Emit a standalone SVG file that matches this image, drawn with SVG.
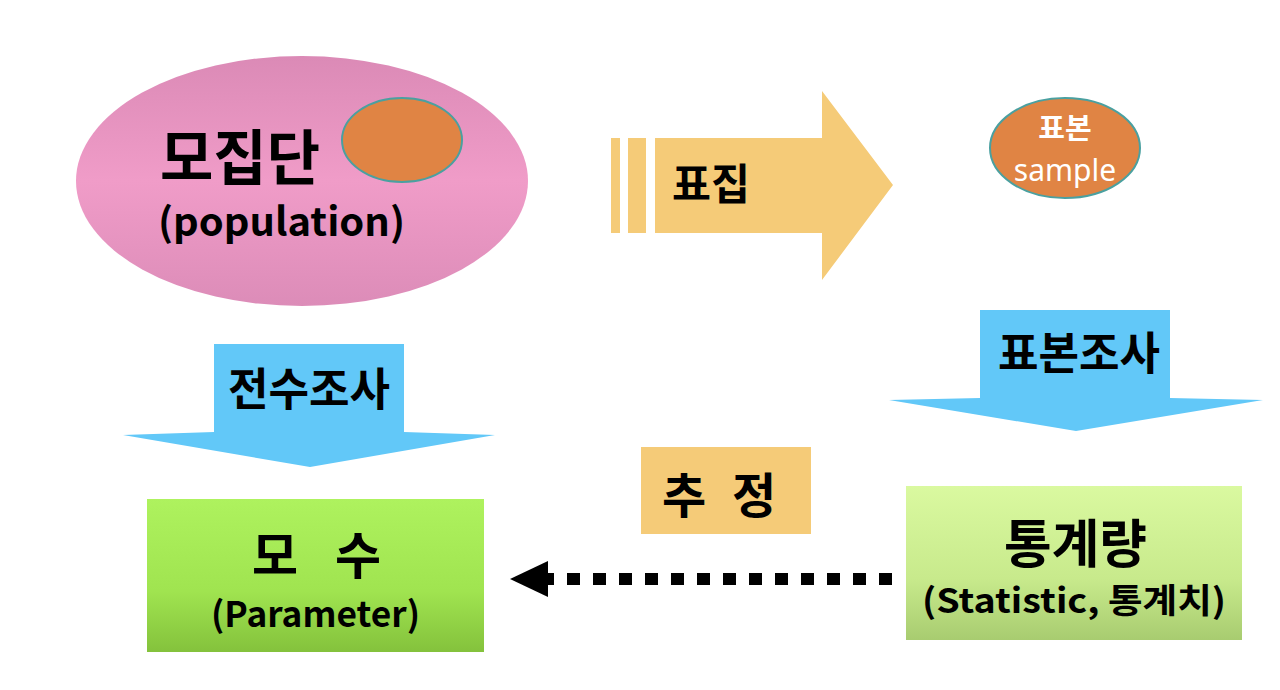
<svg xmlns="http://www.w3.org/2000/svg" width="1280" height="690" viewBox="0 0 1280 690">
<defs>
<linearGradient id="pink" x1="0" y1="0" x2="0" y2="1">
<stop offset="0" stop-color="#DB8AB6"/>
<stop offset="0.5" stop-color="#F09CC8"/>
<stop offset="1" stop-color="#DC8CB8"/>
</linearGradient>
<linearGradient id="g1" x1="0" y1="0" x2="0" y2="1">
<stop offset="0" stop-color="#AEF25E"/>
<stop offset="0.6" stop-color="#A0E450"/>
<stop offset="1" stop-color="#84C23C"/>
</linearGradient>
<linearGradient id="g2" x1="0" y1="0" x2="0" y2="1">
<stop offset="0" stop-color="#DAF9A0"/>
<stop offset="0.6" stop-color="#C8EA8C"/>
<stop offset="1" stop-color="#A8CC70"/>
</linearGradient>
</defs>
<style>
.ko{font-family:"Noto Sans CJK KR","Noto Sans",sans-serif;font-weight:bold;fill:#000}
.lat{font-family:"Noto Sans CJK KR","Noto Sans",sans-serif;font-weight:bold;fill:#000}
.blue{fill:#62C8F8}
</style>
<rect width="1280" height="690" fill="#FFFFFF"/>

<g id="population">
<ellipse cx="302" cy="181" rx="226" ry="125" fill="url(#pink)"/>
<ellipse cx="402" cy="140" rx="60" ry="42" fill="#E08444" stroke="#4AA0A0" stroke-width="2"/>
<text class="ko" x="160" y="180" font-size="60" textLength="160" lengthAdjust="spacingAndGlyphs">모집단</text>
<text class="lat" x="158" y="236" font-size="39" textLength="247" lengthAdjust="spacingAndGlyphs">(population)</text>
</g>

<g id="sampling">
<rect x="611" y="138" width="9" height="95" fill="#F5CB78"/>
<rect x="628" y="138" width="18" height="95" fill="#F5CB78"/>
<polygon points="655,138 822,138 822,91 893,185 822,280 822,233 655,233" fill="#F5CB78"/>
<text class="ko" x="672" y="200" font-size="43" textLength="78" lengthAdjust="spacingAndGlyphs">표집</text>
</g>

<g id="sample">
<ellipse cx="1065" cy="148" rx="75" ry="50" fill="#E08444" stroke="#4AA0A0" stroke-width="2"/>
<text class="ko" x="1065" y="139" font-size="29" text-anchor="middle" style="fill:#FFFFFF">표본</text>
<text x="1065" y="181" font-size="30" text-anchor="middle" font-family="Noto Sans, sans-serif" fill="#FFFFFF">sample</text>
</g>

<g id="census">
<polygon class="blue" points="214,344 404,344 404,432 495,435 310,467 123,435 214,432"/>
<text class="ko" x="228" y="406" font-size="45" textLength="162" lengthAdjust="spacingAndGlyphs">전수조사</text>
</g>

<g id="survey">
<polygon class="blue" points="980,310 1170,310 1170,398 1263,400 1076,431 889,400 980,398"/>
<text class="ko" x="998" y="370" font-size="45" textLength="162" lengthAdjust="spacingAndGlyphs">표본조사</text>
</g>

<g id="parameter">
<rect x="147" y="499" width="337" height="153" fill="url(#g1)"/>
<text class="ko" x="275" y="574" font-size="50" text-anchor="middle">모</text>
<text class="ko" x="358" y="574" font-size="50" text-anchor="middle">수</text>
<text class="lat" x="211" y="627" font-size="35" textLength="209" lengthAdjust="spacingAndGlyphs">(Parameter)</text>
</g>

<g id="estimate">
<rect x="641" y="447" width="170" height="87" fill="#F5CB78"/>
<text class="ko" x="684" y="513" font-size="48" text-anchor="middle">추</text>
<text class="ko" x="754" y="513" font-size="48" text-anchor="middle">정</text>
</g>

<g id="statistic">
<rect x="906" y="486" width="336" height="154" fill="url(#g2)"/>
<text class="ko" x="1004" y="563" font-size="52" textLength="143" lengthAdjust="spacingAndGlyphs">통계량</text>
<text class="lat" x="922" y="613" font-size="34" textLength="304" lengthAdjust="spacingAndGlyphs">(Statistic, 통계치)</text>
</g>

<g id="connectors">
<line x1="892" y1="579" x2="548" y2="579" stroke="#000" stroke-width="12" stroke-dasharray="13,13"/>
<polygon points="510,579 548,561 548,597" fill="#000"/>
</g>
</svg>
